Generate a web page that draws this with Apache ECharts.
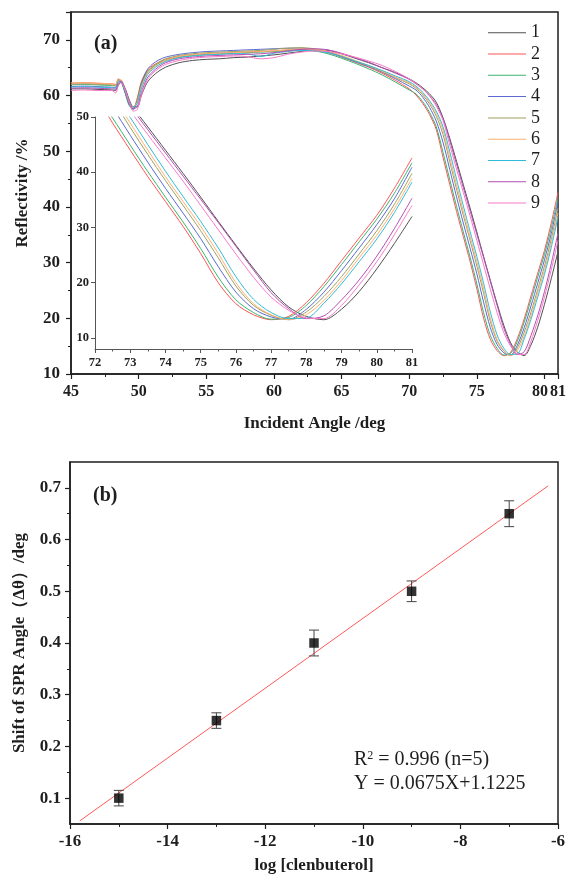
<!DOCTYPE html>
<html><head><meta charset="utf-8">
<script src="https://cdn.jsdelivr.net/npm/echarts@6/dist/echarts.min.js"></script>
<style>html,body{margin:0;padding:0;background:#fff}#c{width:566px;height:883px}</style>
</head><body><div id="c"></div>
<script>
// ---- data: panel (a) SPR reflectivity curves ----
const angle = [45,46,47,48,48.3,48.5,48.7,49,49.3,49.6,49.9,50.2,50.6,51,51.5,52,53,54,55,56,57,58,59,60,61,62,63,64,65,66,67,68,69,70,70.5,71,71.5,72,72.5,73,73.5,74,74.5,75,75.5,76,76.5,77,77.5,78,78.5,79,79.5,80,80.5,81];
const refl1 = [61.2,61.2,61.1,61.0,60.9,61.9,62.4,61.3,59.3,58.0,58.0,60.0,62.2,63.4,64.4,65.1,65.9,66.3,66.5,66.6,66.8,66.9,67.1,67.3,67.6,67.9,68.2,68.1,67.5,66.7,65.9,65.0,64.1,63.0,62.3,61.4,60.3,58.8,56.0,52.3,48.2,44.0,39.8,35.5,31.1,26.8,22.6,18.7,15.6,13.9,13.3,15.2,18.4,22.5,27.1,32.0];
const refl2 = [62.2,62.3,62.2,62.1,62.0,63.0,62.6,60.6,58.4,57.7,59.6,62.5,64.4,65.3,66.0,66.5,67.0,67.3,67.5,67.6,67.7,67.8,67.9,68.0,68.2,68.3,68.1,67.7,66.9,66.0,65.1,64.0,62.7,61.2,60.1,58.6,56.6,53.9,48.9,44.0,39.2,34.7,30.2,25.3,20.0,16.2,14.2,13.3,13.9,16.4,19.9,24.0,28.1,32.2,37.1,42.6];
const refl3 = [61.9,62.0,61.9,61.8,61.7,62.8,62.5,60.4,58.2,57.5,59.2,62.2,64.1,65.0,65.8,66.3,66.9,67.2,67.4,67.5,67.6,67.7,67.8,67.9,68.1,68.2,68.0,67.5,66.7,65.8,64.8,63.7,62.4,61.0,60.3,58.9,57.0,54.4,49.8,44.9,40.1,35.5,31.0,26.2,21.0,16.9,14.6,13.4,13.7,15.9,19.3,23.3,27.4,31.5,36.2,41.7];
const refl4 = [61.6,61.7,61.6,61.5,61.4,62.6,62.5,60.6,58.5,57.6,59.0,62.0,64.5,65.6,66.4,66.9,67.4,67.7,67.9,68.0,68.1,68.2,68.3,68.4,68.5,68.5,68.3,67.8,67.0,66.1,65.2,64.2,63.0,61.7,61.0,59.7,57.9,55.4,51.6,46.7,41.8,37.1,32.6,28.0,22.9,18.3,15.3,13.8,13.4,15.2,18.3,22.2,26.3,30.5,35.2,40.9];
const refl5 = [62.0,62.1,62.0,61.9,61.8,62.9,62.7,60.9,58.8,57.9,59.0,61.8,64.0,65.1,66.0,66.6,67.2,67.5,67.7,67.8,67.9,68.0,68.1,68.3,68.5,68.6,68.4,67.9,67.1,66.2,65.3,64.3,63.2,62.1,61.3,60.1,58.5,56.3,53.0,48.1,43.2,38.5,34.0,29.4,24.5,19.4,15.9,14.1,13.3,14.7,17.5,21.1,25.2,29.4,34.2,39.8];
const refl6 = [62.3,62.3,62.2,62.1,62.0,62.8,62.8,61.0,58.9,57.9,58.8,61.5,63.7,64.8,65.7,66.3,67.0,67.3,67.5,67.6,67.7,67.8,67.9,68.0,68.2,68.4,68.3,67.9,67.2,66.3,65.4,64.4,63.3,62.3,61.5,60.4,58.8,56.8,53.8,48.9,44.0,39.2,34.7,30.2,25.3,20.0,16.2,14.2,13.3,14.2,16.8,20.4,24.5,28.6,33.4,38.9];
const refl7 = [61.5,61.6,61.5,61.4,61.3,62.4,62.5,60.9,58.9,57.9,58.6,61.2,63.5,64.6,65.5,66.1,66.8,67.1,67.3,67.4,67.5,67.5,67.0,67.6,67.9,68.1,68.0,67.7,67.0,66.2,65.4,64.5,63.5,62.5,61.7,60.6,59.1,57.2,54.4,49.9,45.0,40.2,35.6,31.1,26.3,21.1,17.0,14.6,13.5,13.6,16.3,19.8,23.8,27.9,32.7,38.2];
const refl8 = [61.3,61.4,61.3,61.2,61.1,62.2,62.6,61.2,59.0,57.6,58.0,60.5,63.0,64.2,65.2,65.9,66.6,66.9,67.1,67.2,67.3,67.4,67.5,67.7,68.0,68.3,68.4,68.2,67.6,66.8,66.0,65.0,64.0,62.9,62.1,61.2,60.0,58.4,55.9,51.9,47.7,43.5,39.3,35.1,30.9,26.6,22.3,18.2,15.3,13.5,14.0,16.9,20.5,24.8,29.8,35.3];
const refl9 = [60.9,61.0,60.9,60.9,60.5,61.8,62.3,61.0,58.8,57.2,57.5,60.0,62.6,63.9,64.9,65.6,66.3,66.7,66.9,67.0,67.1,67.0,66.6,66.8,67.4,67.8,68.0,67.9,67.5,66.9,66.2,65.4,64.3,63.0,62.2,61.2,59.9,58.1,55.5,51.1,46.8,42.6,38.4,34.0,29.6,25.2,21.0,17.4,15.0,13.6,13.5,15.9,19.6,23.8,28.7,34.0];
const curveNames = ['1','2','3','4','5','6','7','8','9'];
const curveColors = ['#505050','#ff5555','#3cb371','#5a6ad0','#a0a060','#ffb070','#30bcd8','#b34fb5','#f77ac8'];
const curves = [refl1,refl2,refl3,refl4,refl5,refl6,refl7,refl8,refl9];
const xLabelsA = [45,50,55,60,65,70,75,80];
const xEndLabelA = [81];

// ---- data: panel (b) calibration ----
const logConc  = [-15,-13,-11,-9,-7];
const shiftDeg = [0.10,0.25,0.40,0.50,0.65];
const shiftErr = [0.015,0.015,0.025,0.020,0.025];
const fitX = [-15.8,-6.2];
const fitY = [0.056,0.704];
const yTicksB = [0.1,0.2,0.3,0.4,0.5,0.6,0.7];
const yMinorB = [0.15,0.25,0.35,0.45,0.55,0.65];
const yTicksInset = [10,20,30,40,50];

const F = '"Liberation Serif","Times New Roman",serif';
const INK = '#1e1e1e';

function axisBase(extra){
  return Object.assign({
    type:'value',
    splitLine:{show:false},
    axisLine:{show:true,onZero:false,lineStyle:{color:INK,width:1.5}},
    axisTick:{show:true,length:5,lineStyle:{color:INK,width:1.2}},
    minorTick:{show:true,splitNumber:2,length:3,lineStyle:{color:INK,width:1}},
    axisLabel:{fontFamily:F,fontWeight:'bold',fontSize:17,color:INK,margin:9},
    nameTextStyle:{fontFamily:F,fontWeight:'bold',fontSize:17,color:INK}
  }, extra);
}

const series = [];
curves.forEach((vals,i)=>{
  const data = angle.map((a,j)=>[a, vals[j]]);
  series.push({type:'line',name:curveNames[i],xAxisIndex:0,yAxisIndex:0,data:data,
    symbol:'none',showSymbol:false,smooth:0.3,
    lineStyle:{width:1,color:curveColors[i]},itemStyle:{color:curveColors[i]}});
});
curves.forEach((vals,i)=>{
  const data = angle.map((a,j)=>[a, vals[j]]);
  series.push({type:'line',name:curveNames[i],xAxisIndex:1,yAxisIndex:1,data:data,
    symbol:'none',showSymbol:false,smooth:0.3,clip:true,
    lineStyle:{width:1,color:curveColors[i]},itemStyle:{color:curveColors[i]}});
});
series.push({type:'line',xAxisIndex:2,yAxisIndex:2,data:fitX.map((x,i)=>[x,fitY[i]]),
  symbol:'none',lineStyle:{color:'#ff5a5a',width:1},z:2});
series.push({type:'custom',xAxisIndex:2,yAxisIndex:2,
  data:logConc.map((x,i)=>[x, shiftDeg[i]-shiftErr[i], shiftDeg[i]+shiftErr[i]]),
  encode:{x:0,y:[1,2]},
  renderItem:function(params,api){
    const x=api.value(0), lo=api.value(1), hi=api.value(2);
    const p1=api.coord([x,lo]), p2=api.coord([x,hi]);
    const w=5, st={stroke:'#444',lineWidth:1};
    return {type:'group',children:[
      {type:'line',shape:{x1:p1[0],y1:p1[1],x2:p2[0],y2:p2[1]},style:st},
      {type:'line',shape:{x1:p1[0]-w,y1:p1[1],x2:p1[0]+w,y2:p1[1]},style:st},
      {type:'line',shape:{x1:p2[0]-w,y1:p2[1],x2:p2[0]+w,y2:p2[1]},style:st}
    ]};
  },z:3});
series.push({type:'scatter',xAxisIndex:2,yAxisIndex:2,data:logConc.map((x,i)=>[x,shiftDeg[i]]),
  symbol:'rect',symbolSize:9.5,itemStyle:{color:'#000'},z:4});

const labA = {fontFamily:F,fontWeight:'bold',fontSize:16,color:INK};
const option = {
  animation:false,
  backgroundColor:'#fff',
  grid:[
    {left:71,top:12,width:487,height:362,show:true,borderColor:INK,borderWidth:1.5,outerBoundsMode:'none'},
    {left:95,top:117,width:317,height:232,outerBoundsMode:'none'},
    {left:70,top:462,width:488,height:362,show:true,borderColor:INK,borderWidth:1.5,outerBoundsMode:'none'}
  ],
  xAxis:[
    axisBase({gridIndex:0,min:45,max:81,interval:5,name:'Incident Angle /deg',nameLocation:'middle',nameGap:41,
      axisLabel:Object.assign({},labA,{margin:10,customValues:xLabelsA,
        formatter:v=>(Number(v)===80?'{l|80}':String(v)),
        rich:{l:Object.assign({},labA,{padding:[0,9,0,0]})}})}),
    axisBase({gridIndex:1,min:72,max:81,interval:1,
      axisLine:{show:true,onZero:false,lineStyle:{color:'#555',width:1}},
      axisTick:{show:true,length:4,lineStyle:{color:'#555',width:1}},
      minorTick:{show:true,splitNumber:2,length:2.5,lineStyle:{color:'#555',width:1}},
      axisLabel:{fontFamily:F,fontWeight:'bold',fontSize:12.5,color:INK,margin:7}}),
    axisBase({gridIndex:2,min:-16,max:-6,interval:2,name:'log [clenbuterol]',nameLocation:'middle',nameGap:33}),
    axisBase({gridIndex:0,min:45,max:81,position:'bottom',offset:0,
      axisLine:{show:false},axisTick:{show:false},minorTick:{show:false},
      axisLabel:Object.assign({},labA,{margin:10,customValues:xEndLabelA})})
  ],
  yAxis:[
    axisBase({gridIndex:0,min:10,max:75,interval:10,name:'Reflectivity /%',nameLocation:'middle',nameGap:40,
      axisLabel:{fontFamily:F,fontWeight:'bold',fontSize:17,color:INK,margin:11,showMaxLabel:false}}),
    axisBase({gridIndex:1,min:8,max:50,
      axisLine:{show:true,onZero:false,lineStyle:{color:'#555',width:1}},
      axisTick:{show:true,length:4,customValues:yTicksInset,lineStyle:{color:'#555',width:1}},
      minorTick:{show:false},
      axisLabel:{fontFamily:F,fontWeight:'bold',fontSize:12.5,color:INK,margin:6,customValues:yTicksInset}}),
    axisBase({gridIndex:2,min:0.05,max:0.75,position:'left',name:'Shift of SPR Angle（Δθ）/deg',nameLocation:'middle',nameGap:42,
      axisTick:{show:true,length:5,customValues:yTicksB,lineStyle:{color:INK,width:1.2}},
      minorTick:{show:false},
      axisLabel:{fontFamily:F,fontWeight:'bold',fontSize:17,color:INK,margin:9,customValues:yTicksB,
        formatter:v=>Number(v).toFixed(1)}}),
    axisBase({gridIndex:2,min:0.05,max:0.75,position:'left',offset:0,
      axisLine:{show:false},
      axisTick:{show:true,length:3,customValues:yMinorB,lineStyle:{color:INK,width:1}},
      minorTick:{show:false},
      axisLabel:{show:false}})
  ],
  legend:{
    data:curveNames,orient:'vertical',left:483,top:18.7,
    itemWidth:38,itemHeight:1,itemGap:3.3,icon:'rect',selectedMode:false,
    textStyle:{fontFamily:F,fontSize:18,color:INK,lineHeight:18}
  },
  graphic:[
    {type:'text',x:94,y:44,style:{text:'(a)',font:'bold 20px "Liberation Serif"',fill:INK,verticalAlign:'middle'}},
    {type:'text',x:93,y:496,style:{text:'(b)',font:'bold 20px "Liberation Serif"',fill:INK,verticalAlign:'middle'}},
    {type:'text',x:354,y:760,style:{text:'R{sup|2} = 0.996 (n=5)',fontFamily:F,fontSize:20,fill:INK,verticalAlign:'middle',
      rich:{sup:{fontFamily:F,fontSize:12,verticalAlign:'top',fill:INK}}}},
    {type:'text',x:354,y:784,style:{text:'Y = 0.0675X+1.1225',fontFamily:F,fontSize:20,fill:INK,verticalAlign:'middle'}}
  ],
  series:series
};
const chart = echarts.init(document.getElementById('c'),null,{renderer:'canvas'});
chart.setOption(option);
</script></body></html>
